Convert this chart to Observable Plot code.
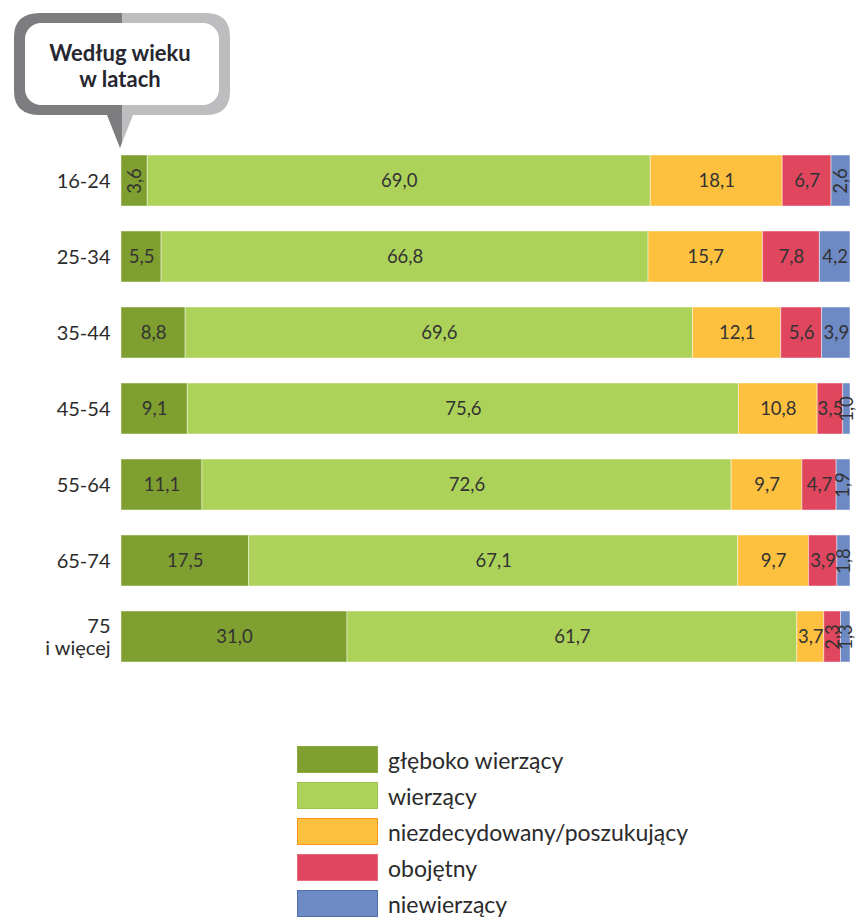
<!DOCTYPE html>
<html>
<head>
<meta charset="utf-8">
<script src="https://cdn.jsdelivr.net/npm/d3@7"></script>
<script src="https://cdn.jsdelivr.net/npm/@observablehq/plot@0.6"></script>
<style>
  body { margin: 0; background: #fff; font-family: Lato, "Open Sans", sans-serif; }
  #page { position: relative; width: 858px; height: 917px; overflow: hidden; }
  #chart { position: absolute; left: 0; top: 0; }
  #callout { position: absolute; left: 0; top: 0; }
  .legend-row { position: absolute; left: 297px; height: 27px; display: flex; align-items: center; }
  .swatch { width: 79px; height: 25px; border: 1px solid; box-sizing: content-box; flex: none; }
  .legend-label { margin-left: 10px; font-size: 23px; line-height: 24px; color: #2b2b2b; font-family: Lato, sans-serif; white-space: nowrap; }
</style>
</head>
<body>
<div id="page">
  <div id="chart"></div>
  <svg id="callout" width="260" height="160" viewBox="0 0 260 160">
    <defs>
      <linearGradient id="split" x1="0" x2="1" y1="0" y2="0">
        <stop offset="0.5" stop-color="#7d7d80"/>
        <stop offset="0.5" stop-color="#bdbdc0"/>
      </linearGradient>
    </defs>
    <path d="M40,13 H206 Q230,13 230,37 V91 Q230,115 206,115 H133 L120,148 L107,115 H40 Q14,115 14,91 V37 Q14,13 40,13 Z" fill="url(#split)"/>
    <rect x="25" y="23" width="194" height="82" rx="16" fill="#fff"/>
    <text x="120" y="61" text-anchor="middle" font-family="Lato, sans-serif" font-weight="bold" font-size="22" fill="#262630">Według wieku</text>
    <text x="120" y="87" text-anchor="middle" font-family="Lato, sans-serif" font-weight="bold" font-size="22" fill="#262630">w latach</text>
  </svg>
  <div id="legend"></div>
</div>
<script>
const ages = ["16-24", "25-34", "35-44", "45-54", "55-64", "65-74", "75\ni więcej"];
const categories = ["głęboko wierzący", "wierzący", "niezdecydowany/poszukujący", "obojętny", "niewierzący"];
const deeplyBelieving = [3.6, 5.5, 8.8, 9.1, 11.1, 17.5, 31.0];
const believing = [69.0, 66.8, 69.6, 75.6, 72.6, 67.1, 61.7];
const undecided = [18.1, 15.7, 12.1, 10.8, 9.7, 9.7, 3.7];
const indifferent = [6.7, 7.8, 5.6, 3.5, 4.7, 3.9, 2.3];
const nonBelieving = [2.6, 4.2, 3.9, 1.0, 1.9, 1.8, 1.3];

const series = [deeplyBelieving, believing, undecided, indifferent, nonBelieving];
const colors = ["#7f9f30", "#acd25a", "#fec13f", "#e0475f", "#6d8ac5"];
const borders = ["#8aab3c", "#9cc24a", "#f7941d", "#e46a7c", "#4f6fa8"];

const rows = [];
ages.forEach((age, i) => {
  let acc = 0;
  series.forEach((s, k) => {
    const v = s[i];
    const x1 = acc, x2 = acc + v;
    acc = x2;
    const rotated = v < 3 || (k === 0 && v < 5);
    rows.push({age, cat: categories[k], value: v, x1, x2, mid: (x1 + x2) / 2,
               label: v.toFixed(1).replace(".", ","), rotated});
  });
});

const chart = Plot.plot({
  width: 858,
  height: 700,
  marginLeft: 121,
  marginRight: 8,
  marginTop: 0,
  marginBottom: 0,
  style: {fontFamily: "Lato, sans-serif", background: "transparent"},
  x: {domain: [0, 100], range: [121, 850], axis: null},
  y: {domain: ages, range: [127, 691], padding: 0.325},
  color: {domain: categories, range: colors},
  marks: [
    Plot.barX(rows, {x1: "x1", x2: "x2", y: "age", fill: "cat", stroke: "#ffffff", strokeOpacity: 0.45, strokeWidth: 1}),
    Plot.axisY({tickSize: 0, tickPadding: 11, fontSize: 20, fill: "#2b2b2b", label: null, lineHeight: 1.12}),
    Plot.text(rows.filter(d => !d.rotated), {x: "mid", y: "age", text: "label", fontSize: 18.5, fill: "#333"}),
    Plot.text(rows.filter(d => d.rotated), {x: "mid", y: "age", text: "label", fontSize: 18.5, fill: "#333", rotate: -90})
  ]
});
document.getElementById("chart").appendChild(chart);

const legend = document.getElementById("legend");
categories.forEach((c, i) => {
  const row = document.createElement("div");
  row.className = "legend-row";
  row.style.top = (746 + i * 36) + "px";
  const sw = document.createElement("div");
  sw.className = "swatch";
  sw.style.background = colors[i];
  sw.style.borderColor = borders[i];
  const lab = document.createElement("span");
  lab.className = "legend-label";
  lab.textContent = c;
  row.appendChild(sw);
  row.appendChild(lab);
  legend.appendChild(row);
});
</script>
</body>
</html>
